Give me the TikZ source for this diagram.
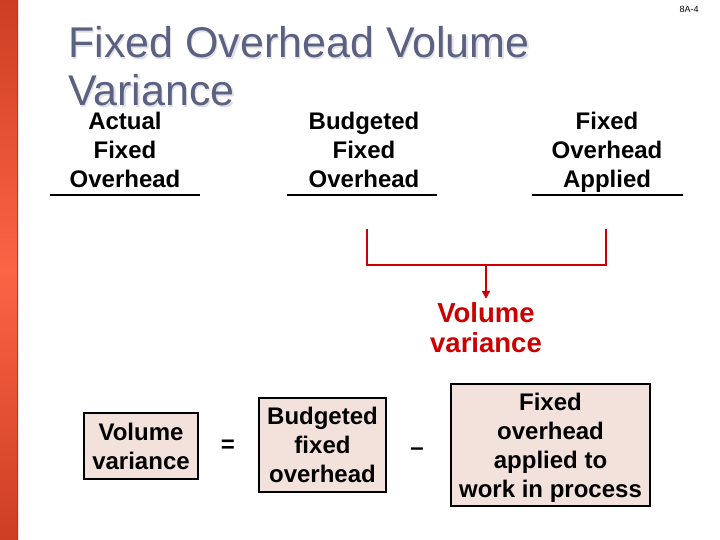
\documentclass[tikz,border=0pt]{standalone}
\usepackage{fontspec}
\setmainfont{Liberation Sans}
\usepackage{tikz}
\usetikzlibrary{arrows.meta,positioning}
\definecolor{slidebar}{RGB}{252, 100, 70}
\definecolor{slidebardark}{RGB}{205, 62, 34}
\definecolor{titleslate}{RGB}{92, 97, 130}
\definecolor{titleshadow}{RGB}{222, 224, 230}
\definecolor{varred}{RGB}{204, 0, 0}
\definecolor{boxpink}{RGB}{243, 225, 220}

\begin{document}
\begin{tikzpicture}[x=1pt, y=-1pt, >={Triangle[length=8pt,width=8pt]},
  title/.style={anchor=north west, inner sep=0, align=left, font=\fontsize{43}{48}\selectfont},
  hdr/.style={inner sep=0, align=center, text depth=0pt, font=\fontsize{24}{29}\selectfont\bfseries},
  rule/.style={line width=2.5pt},
  brk/.style={draw=varred, line width=2.5pt},
  eqbox/.style={draw, line width=2.5pt, fill=boxpink, inner sep=0, align=center, font=\fontsize{24}{29}\selectfont\bfseries},
  op/.style={inner sep=0, font=\fontsize{24}{29}\selectfont\bfseries}]
\useasboundingbox (0,0) rectangle (720,540);
% slide frame
\begin{scope}[y=1pt]
\shade[top color=slidebardark, bottom color=slidebardark, middle color=slidebar] (0,0) rectangle (18,-540);
\end{scope}
\draw[slidebardark!90!black, line width=1pt] (17.5,0) -- (17.5,540);
\node[font=\fontsize{9}{10}\selectfont] (pg) at (689,9) {8A-4};
% title
\node[title, text=titleshadow] at (69.5,28) {Fixed Overhead Volume\\Variance};
\node[title, text=titleslate] (ttl) at (68,26.5) {Fixed Overhead Volume\\Variance};
% column headings
\node[hdr] (act) at (125,150) {Actual\\Fixed\\Overhead};
\node[hdr] (bud) at (364,150) {Budgeted\\Fixed\\Overhead};
\node[hdr] (app) at (607,150) {Fixed\\Overhead\\Applied};
\draw[rule] (50,195) -- (200,195);
\draw[rule] (287,195) -- (437,195);
\draw[rule] (532,195) -- (683,195);
% bracket to volume variance
\coordinate (bl) at (367,229);
\coordinate (br) at (606,229);
\coordinate (bm) at (486,265);
\node[hdr, text=varred, font=\fontsize{27.5}{30}\selectfont\bfseries] (vv) at (486,328) {Volume\\variance};
\draw[brk] (bl) -- ++(0,36) -| (br);
\draw[brk,->] (bm) -- ([yshift=4pt]vv.north);
% formula
\node[eqbox, minimum width=114, minimum height=66] (vol) at (141,446) {Volume\\variance};
\node[op] (eq) at (228,446) {=};
\node[eqbox, minimum width=127, minimum height=94] (bfo) at (322.5,445) {Budgeted\\fixed\\overhead};
\node[op] (mi) at (417,452) {–};
\node[eqbox, text depth=0pt, minimum width=199, minimum height=122] (foa) at (550.5,445) {Fixed\\overhead\\applied to\\work in process};
\end{tikzpicture}
\end{document}
